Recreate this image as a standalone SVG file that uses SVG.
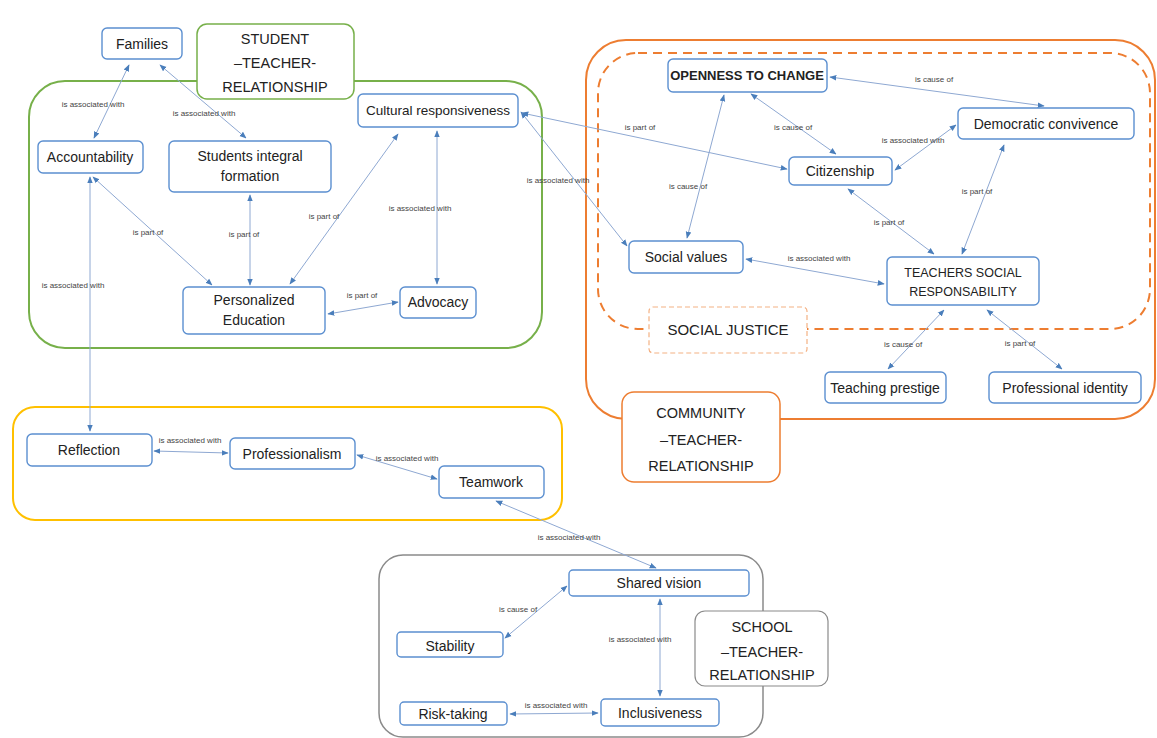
<svg xmlns="http://www.w3.org/2000/svg" width="1157" height="738" viewBox="0 0 1157 738">
<style>
.node rect{fill:#fff;stroke:#5b8fd0;stroke-width:1.4}
.node text{font-family:"Liberation Sans",Arial,sans-serif;font-size:14px;fill:#222;text-anchor:middle}
.grp text{font-family:"Liberation Sans",Arial,sans-serif;font-size:14.5px;fill:#222;text-anchor:middle}
.edges line{stroke:#8ea8d2;stroke-width:1;marker-start:url(#ah);marker-end:url(#ah)}
.lbl text{font-family:"Liberation Sans",Arial,sans-serif;font-size:8px;fill:#444;text-anchor:middle}
</style>
<defs>
<marker id="ah" viewBox="0 0 10 10" refX="9" refY="5" markerWidth="7" markerHeight="7" markerUnits="userSpaceOnUse" orient="auto-start-reverse">
<path d="M0,1 L10,5 L0,9 z" fill="#4a7ebb"/>
</marker>
</defs>
<rect width="1157" height="738" fill="#fff"/>

<g id="containers">
<rect id="student-area" x="29" y="81" width="513" height="267" rx="36" fill="none" stroke="#77b04a" stroke-width="2"/>
<rect id="community-area" x="586" y="40" width="569" height="379" rx="40" fill="none" stroke="#ed7d31" stroke-width="2"/>
<rect id="social-justice-area" x="598" y="53" width="552" height="276" rx="40" fill="none" stroke="#ed7d31" stroke-width="2" stroke-dasharray="9 6"/>
<rect id="prof-area" x="13" y="407" width="549" height="113" rx="22" fill="none" stroke="#ffc000" stroke-width="2"/>
<rect id="school-area" x="379" y="555" width="384" height="182" rx="24" fill="none" stroke="#8a8a8a" stroke-width="1.5"/>
</g>

<g id="connectors">
<g class="edges">
<line x1="129" y1="65" x2="94" y2="138"/>
<line x1="160" y1="65" x2="246" y2="138"/>
<line x1="93" y1="177" x2="212" y2="285"/>
<line x1="250" y1="195" x2="250" y2="285"/>
<line x1="398" y1="134" x2="290" y2="284"/>
<line x1="437" y1="131" x2="437" y2="284"/>
<line x1="328" y1="314" x2="398" y2="302"/>
<line x1="90" y1="177" x2="90" y2="431"/>
<line x1="521" y1="112" x2="627" y2="246"/>
<line x1="522" y1="113" x2="787" y2="169"/>
<line x1="830" y1="77" x2="1044" y2="106"/>
<line x1="751" y1="94" x2="836" y2="154"/>
<line x1="895" y1="170" x2="956" y2="125"/>
<line x1="724" y1="95" x2="687" y2="238"/>
<line x1="848" y1="189" x2="934" y2="254"/>
<line x1="1004" y1="145" x2="962" y2="254"/>
<line x1="746" y1="259" x2="884" y2="284"/>
<line x1="944" y1="310" x2="888" y2="369"/>
<line x1="987" y1="310" x2="1062" y2="369"/>
<line x1="154" y1="451" x2="228" y2="453"/>
<line x1="357" y1="455" x2="437" y2="479"/>
<line x1="496" y1="501" x2="656" y2="568"/>
<line x1="567" y1="586" x2="505" y2="638"/>
<line x1="660" y1="599" x2="660" y2="696"/>
<line x1="510" y1="714" x2="598" y2="713"/>
</g>
<g class="lbl">
<text x="93" y="107">is associated with</text>
<text x="204" y="116">is associated with</text>
<text x="148" y="235">is part of</text>
<text x="244" y="237">is part of</text>
<text x="324" y="219">is part of</text>
<text x="420" y="211">is associated with</text>
<text x="362" y="298">is part of</text>
<text x="73" y="288">is associated with</text>
<text x="558" y="183">is associated with</text>
<text x="640" y="130">is part of</text>
<text x="934" y="82">is cause of</text>
<text x="793" y="130">is cause of</text>
<text x="913" y="143">is associated with</text>
<text x="688" y="189">is cause of</text>
<text x="889" y="225">is part of</text>
<text x="977" y="194">is part of</text>
<text x="819" y="261">is associated with</text>
<text x="903" y="347">is cause of</text>
<text x="1020" y="346">is part of</text>
<text x="190" y="443">is associated with</text>
<text x="407" y="461">is associated with</text>
<text x="569" y="540">is associated with</text>
<text x="518" y="612">is cause of</text>
<text x="640" y="642">is associated with</text>
<text x="556" y="708">is associated with</text>
</g>
</g>

<g id="g-student" class="grp">
<rect x="197" y="24" width="157" height="75" rx="10" fill="#fff" stroke="#77b04a" stroke-width="1.5"/>
<text x="275" y="44">STUDENT</text>
<text x="275" y="68">–TEACHER-</text>
<text x="275" y="92">RELATIONSHIP</text>
</g>
<g id="g-community" class="grp">
<rect x="622" y="392" width="158" height="90" rx="12" fill="#fff" stroke="#ed7d31" stroke-width="1.5"/>
<text x="701" y="418">COMMUNITY</text>
<text x="701" y="445">–TEACHER-</text>
<text x="701" y="471">RELATIONSHIP</text>
</g>
<g id="g-school" class="grp">
<rect x="695" y="611" width="133" height="75" rx="10" fill="#fff" stroke="#8a8a8a" stroke-width="1.2"/>
<text x="762" y="632">SCHOOL</text>
<text x="762" y="657">–TEACHER-</text>
<text x="762" y="680">RELATIONSHIP</text>
</g>
<g id="g-socialjustice" class="grp">
<rect x="649" y="307" width="158" height="46" rx="4" fill="#fff" stroke="#f4b183" stroke-width="1.2" stroke-dasharray="5 3"/>
<text x="728" y="335" style="font-size:15px">SOCIAL JUSTICE</text>
</g>

<g id="n-families" class="node"><rect x="102" y="28" width="80" height="31" rx="5"/><text x="142" y="49">Families</text></g>
<g id="n-accountability" class="node"><rect x="38" y="141" width="105" height="32" rx="5"/><text x="90" y="162">Accountability</text></g>
<g id="n-students" class="node"><rect x="169" y="141" width="162" height="51" rx="5"/><text x="250" y="161">Students integral</text><text x="250" y="181">formation</text></g>
<g id="n-cultural" class="node"><rect x="358" y="94" width="160" height="33" rx="5"/><text x="438" y="115" style="font-size:13.5px">Cultural responsiveness</text></g>
<g id="n-personalized" class="node"><rect x="183" y="287" width="142" height="47" rx="5"/><text x="254" y="305">Personalized</text><text x="254" y="325">Education</text></g>
<g id="n-advocacy" class="node"><rect x="400" y="287" width="76" height="31" rx="5"/><text x="438" y="307">Advocacy</text></g>
<g id="n-openness" class="node"><rect x="668" y="59" width="159" height="33" rx="5"/><text x="747" y="80" style="font-weight:bold;font-size:13px">OPENNESS TO CHANGE</text></g>
<g id="n-democratic" class="node"><rect x="958" y="108" width="176" height="31" rx="5"/><text x="1046" y="129">Democratic convivence</text></g>
<g id="n-citizenship" class="node"><rect x="789" y="157" width="103" height="28" rx="5"/><text x="840" y="176">Citizenship</text></g>
<g id="n-socialvalues" class="node"><rect x="629" y="241" width="114" height="32" rx="5"/><text x="686" y="262">Social values</text></g>
<g id="n-teachers" class="node"><rect x="887" y="257" width="152" height="48" rx="5"/><text x="963" y="277" style="font-size:12.5px">TEACHERS SOCIAL</text><text x="963" y="296" style="font-size:12.5px">RESPONSABILITY</text></g>
<g id="n-prestige" class="node"><rect x="825" y="372" width="121" height="31" rx="5"/><text x="885" y="393">Teaching prestige</text></g>
<g id="n-identity" class="node"><rect x="989" y="372" width="152" height="31" rx="5"/><text x="1065" y="393">Professional identity</text></g>
<g id="n-reflection" class="node"><rect x="27" y="434" width="125" height="32" rx="5"/><text x="89" y="455">Reflection</text></g>
<g id="n-professionalism" class="node"><rect x="230" y="438" width="125" height="31" rx="5"/><text x="292" y="459">Professionalism</text></g>
<g id="n-teamwork" class="node"><rect x="439" y="466" width="105" height="32" rx="5"/><text x="491" y="487">Teamwork</text></g>
<g id="n-shared" class="node"><rect x="569" y="570" width="180" height="26" rx="4"/><text x="659" y="588">Shared vision</text></g>
<g id="n-stability" class="node"><rect x="397" y="632" width="106" height="25" rx="4"/><text x="450" y="651">Stability</text></g>
<g id="n-risk" class="node"><rect x="400" y="702" width="107" height="23" rx="4"/><text x="453" y="719">Risk-taking</text></g>
<g id="n-inclusiveness" class="node"><rect x="601" y="699" width="118" height="27" rx="4"/><text x="660" y="718">Inclusiveness</text></g>
</svg>
